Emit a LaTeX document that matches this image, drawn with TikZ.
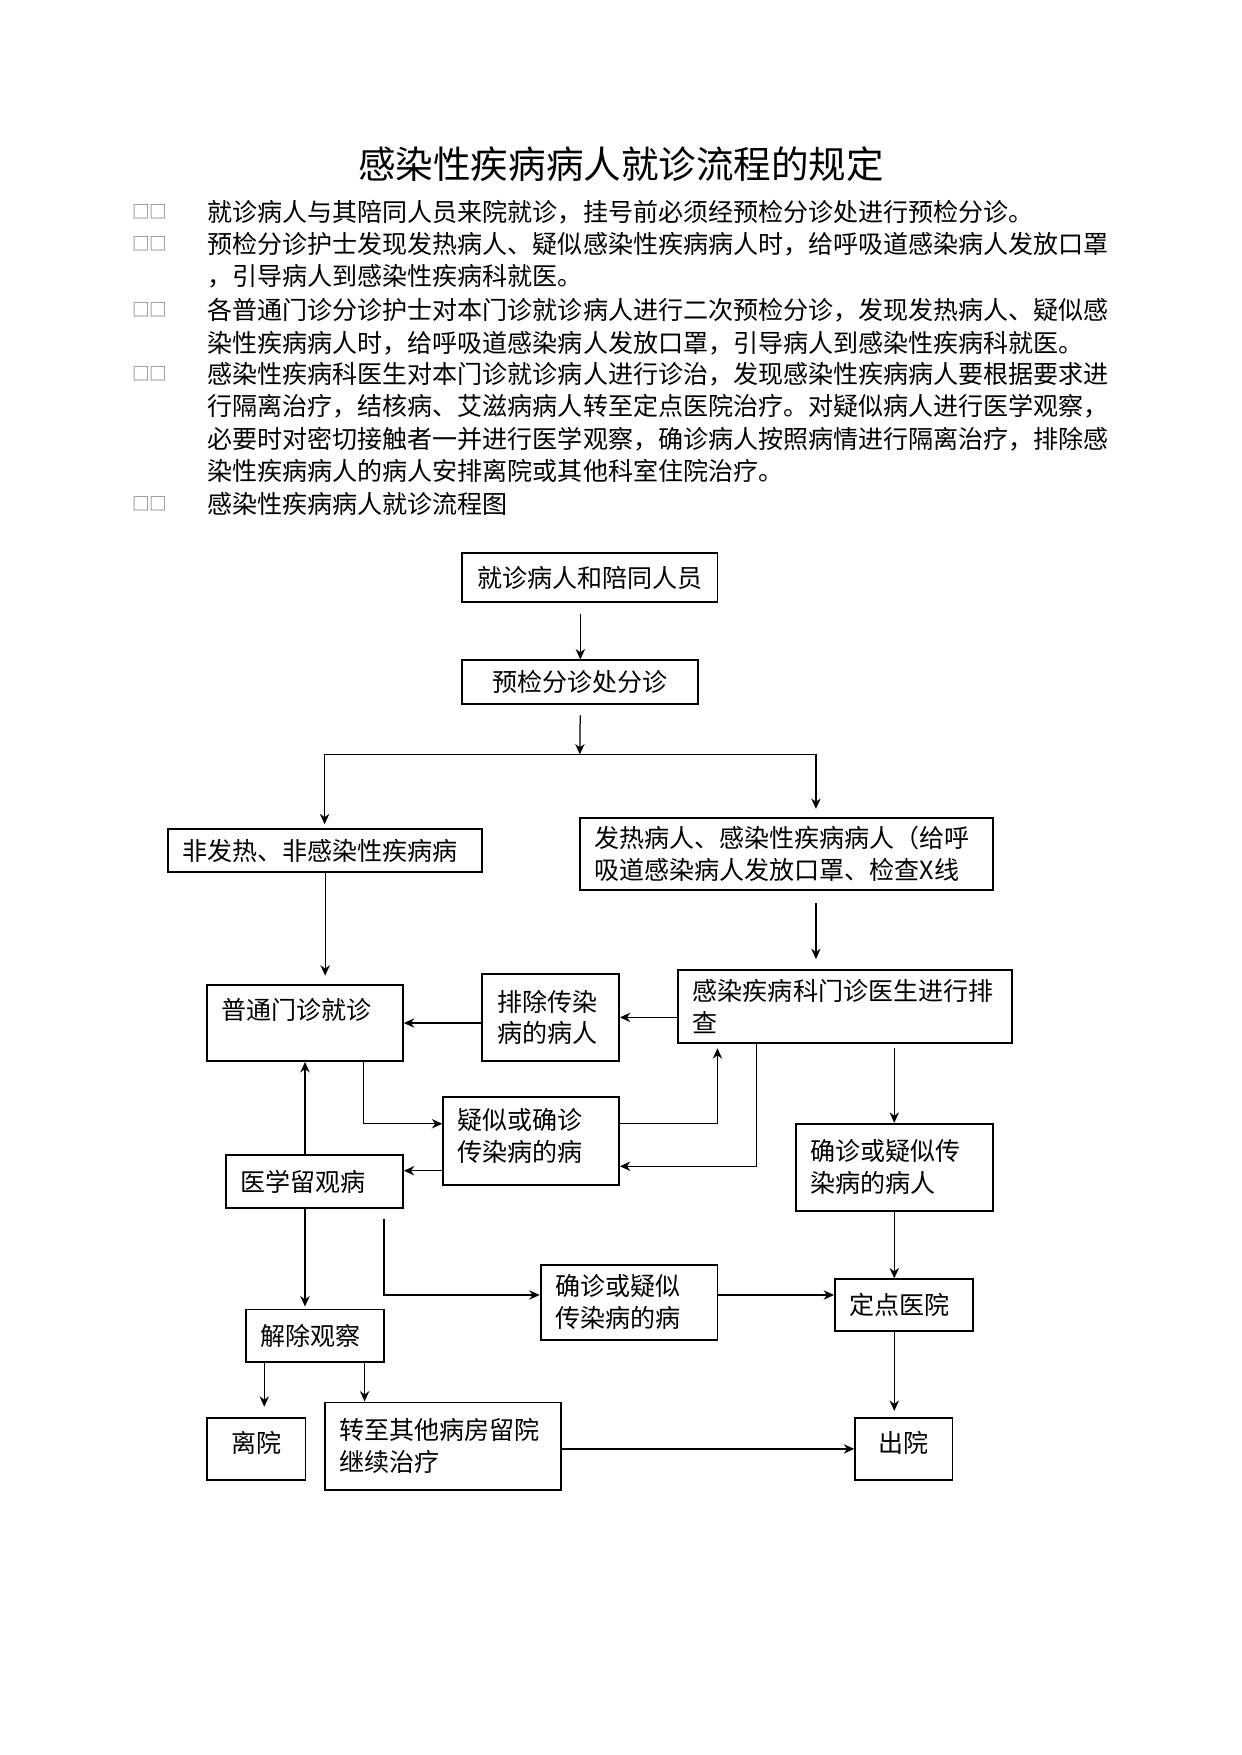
\documentclass[tikz,border=0pt]{standalone}
\usepackage{fontspec}
\setmainfont{Noto Sans CJK SC}
\usetikzlibrary{arrows.meta}
\def\upx{0.5365pt}
\tikzset{
  box/.style 2 args={draw, line width=0.9pt, inner xsep=7pt, inner ysep=0pt,
    minimum width=#1*\upx, minimum height=#2*\upx, text width=#1*\upx-14pt,
    align=left, font=\fontsize{12}{15.3}\selectfont},
  line/.style={line width=0.6pt},
  item/.style={anchor=base west, inner sep=0pt, text width=440pt, align=left,
    font=\fontsize{12}{15.56}\selectfont},
  itemmark/.style={inner sep=0pt, text=black!55, font=\fontsize{8.5}{10}\selectfont},
  title/.style={inner sep=0pt, font=\fontsize{18}{22}\selectfont}
}
\begin{document}
\begin{tikzpicture}[x=\upx, y=-\upx, >={Stealth[length=5pt,width=4.5pt]}]
\useasboundingbox (0,0) rectangle (1109,1568);

\node[title] (title) at (555,147) {感染性疾病病人就诊流程的规定};
\foreach \yy/\nm in {189/m1, 218/m2, 277/m3, 334/m4, 450/m5}
  \node[itemmark] (\nm) at (134,\yy) {□□};
\node[item] (t1) at (185,197.5) {就诊病人与其陪同人员来院就诊，挂号前必须经预检分诊处进行预检分诊。};
\node[item] (t2) at (185,226.5) {预检分诊护士发现发热病人、疑似感染性疾病病人时，给呼吸道感染病人发放口罩\\，引导病人到感染性疾病科就医。};
\node[item] (t3) at (185,285.5) {各普通门诊分诊护士对本门诊就诊病人进行二次预检分诊，发现发热病人、疑似感\\染性疾病病人时，给呼吸道感染病人发放口罩，引导病人到感染性疾病科就医。};
\node[item] (t4) at (185,342.5) {感染性疾病科医生对本门诊就诊病人进行诊治，发现感染性疾病病人要根据要求进\\行隔离治疗，结核病、艾滋病病人转至定点医院治疗。对疑似病人进行医学观察，\\必要时对密切接触者一并进行医学观察，确诊病人按照病情进行隔离治疗，排除感\\染性疾病病人的病人安排离院或其他科室住院治疗。};
\node[item] (t5) at (185,458.5) {感染性疾病病人就诊流程图};

\node[box={228}{44}, align=center] (visit) at (527,516) {就诊病人和陪同人员};
\node[box={211}{39}, align=center] (triage) at (518.5,609.5) {预检分诊处分诊};
\node[box={281}{38}] (nonfever) at (290.5,760) {非发热、非感染性疾病病};
\node[box={369}{64}] (fever) at (702.5,763) {发热病人、感染性疾病病人（给呼\\吸道感染病人发放口罩、检查X线};
\node[box={175}{68}, text height=10.5pt, text depth=14.1pt] (clinic) at (272.5,914) {普通门诊就诊};
\node[box={122}{78}] (excluded) at (492,909) {排除传染\\病的病人};
\node[box={298}{65}] (screen) at (755,899.5) {感染疾病科门诊医生进行排\\查};
\node[box={157}{79}, text height=10.5pt, text depth=21.7pt] (suspect) at (474.5,1019.5) {疑似或确诊\\传染病的病};
\node[box={158}{47}] (observe) at (281,1055.5) {医学留观病};
\node[box={176}{78}] (confirmed) at (799,1043) {确诊或疑似传\\染病的病人};
\node[box={123}{47}] (release) at (281.5,1193.5) {解除观察};
\node[box={158}{67}] (confirmed2) at (562,1163.5) {确诊或疑似\\传染病的病};
\node[box={123}{46}] (hospital) at (807.5,1166) {定点医院};
\node[box={88}{55}, align=center, text height=10.5pt, text depth=7.3pt] (leave) at (229,1294.5) {离院};
\node[box={211}{78}] (transfer) at (395.5,1292) {转至其他病房留院\\继续治疗};
\node[box={87}{55}, align=center, text height=10.5pt, text depth=7.3pt] (discharge) at (807.5,1294.5) {出院};

\coordinate (split) at (518,674);
\coordinate (splitL) at (290,674);
\coordinate (splitR) at (729,674);
\draw[line, ->, shorten <=5pt] (visit.south -| triage.north) -- (triage.north);
\draw[line, ->, shorten <=5pt] (triage.south) -- (split);
\draw[line] (splitL) -- (splitR);
\draw[line, ->, shorten >=2pt] (splitL) -- (splitL |- nonfever.north);
\draw[line, ->, shorten >=4pt] (splitR) -- (splitR |- fever.north);
\draw[line, ->, shorten >=4pt] (nonfever.south) -- (nonfever.south |- clinic.north);
\draw[line, ->, shorten <=6pt, shorten >=5pt] (fever.south -| splitR) -- (screen.north -| splitR);
\draw[line, ->] (screen.west |- excluded.east) -- (excluded.east);
\draw[line, ->] (excluded.west |- clinic.east) -- (clinic.east);

\coordinate (eh) at (325,1004);
\coordinate (hf) at (641,1004);
\coordinate (fh) at (676,1042);
\coordinate (hi) at ([yshift=-14.2pt]suspect.west);
\draw[line, ->] (eh |- clinic.south) -- (eh) -- (eh -| suspect.west);
\draw[line, ->, shorten >=2pt] (hf -| suspect.east) -- (hf) -- (hf |- screen.south);
\draw[line, ->] (fh |- screen.south) -- (fh) -- (fh -| suspect.east);
\draw[line, ->] (hi) -- (hi -| observe.east);
\draw[line, ->] (observe.north -| clinic.south) -- (clinic.south);
\draw[line, ->, shorten <=2pt] (screen.south -| confirmed.north) -- (confirmed.north);

\coordinate (il) at (343,1157);
\draw[line, ->, shorten >=1pt] (observe.south -| clinic.south) -- (release.north -| clinic.south);
\draw[line, ->, shorten <=5pt] (il |- observe.south) -- (il) -- (il -| confirmed2.west);
\draw[line, ->] (confirmed2.east |- il) -- (il -| hospital.west);
\draw[line, ->] (confirmed.south) -- (confirmed.south |- hospital.north);

\coordinate (kn) at ([xshift=9.1pt]release.south west);
\coordinate (ko) at ([xshift=-9.7pt]release.south east);
\draw[line, ->, shorten >=5pt] (kn) -- (kn |- leave.north);
\draw[line, ->] (ko) -- (ko |- transfer.north);
\draw[line, ->, shorten >=3pt] (hospital.south -| confirmed.south) -- (discharge.north -| confirmed.south);
\draw[line, ->] (transfer.east |- discharge.west) -- (discharge.west);
\end{tikzpicture}
\end{document}
